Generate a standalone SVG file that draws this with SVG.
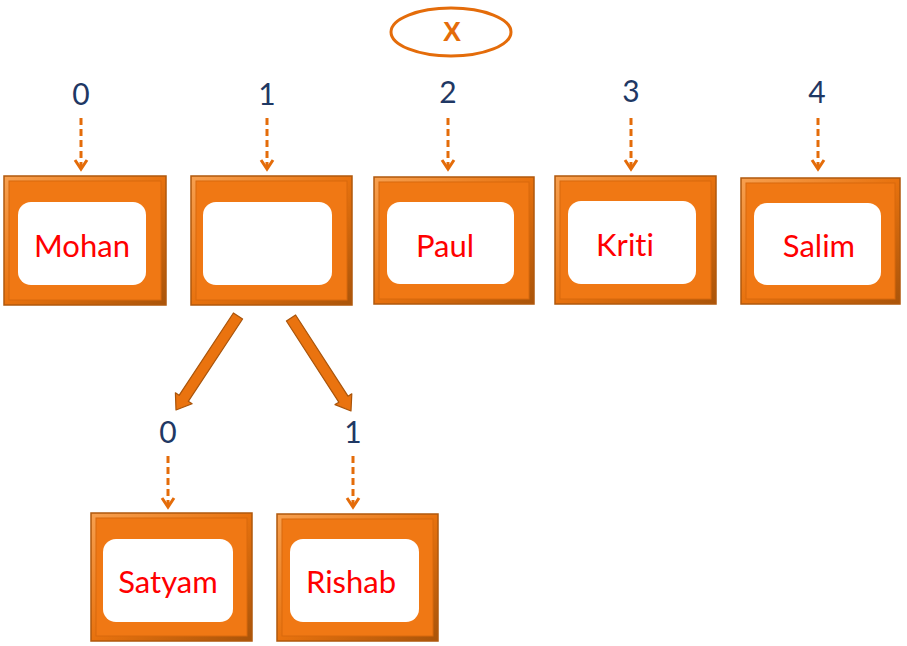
<svg xmlns="http://www.w3.org/2000/svg" width="907" height="646" viewBox="0 0 907 646">
<defs>
<style>
.outer{stroke:#b0580c;stroke-width:1.5}
.face{fill:#f07814;stroke:#d8680c;stroke-width:1}
.inner{fill:#ffffff}
.name{font-family:Lato,"Liberation Sans",sans-serif;font-size:31px;fill:#ff0000;text-anchor:middle;font-variant-ligatures:none}
.idx{font-family:Lato,"Liberation Sans",sans-serif;font-size:30px;fill:#1f3864;text-anchor:middle}
.dash{stroke:#e46c0a;stroke-width:3;stroke-dasharray:7 4;fill:none}
.big{fill:#ea730f;stroke:#a9540a;stroke-width:1.2;stroke-linejoin:round}
</style>
<marker id="v" markerWidth="16" markerHeight="16" refX="12" refY="8" orient="auto" markerUnits="userSpaceOnUse" viewBox="0 0 16 16">
<path d="M4,2 L13,8 L4,14" fill="none" stroke="#e46c0a" stroke-width="3"/>
</marker>
<linearGradient id="bev" x1="0" y1="0" x2="1" y2="1">
<stop offset="0" stop-color="#f7a050"/>
<stop offset="0.5" stop-color="#e8720e"/>
<stop offset="1" stop-color="#a9540a"/>
</linearGradient>
</defs>
<rect width="907" height="646" fill="#ffffff"/>

<g id="x-node">
<ellipse cx="451" cy="32" rx="60" ry="24" fill="#ffffff" stroke="#e46c0a" stroke-width="3"/>
<text x="452" y="41" font-family="'Liberation Sans',sans-serif" font-size="27" font-weight="bold" fill="#e46c0a" text-anchor="middle">X</text>
</g>

<g id="node-0">
<rect class="outer" x="4" y="176" width="162" height="129" fill="url(#bev)"/>
<rect class="face" x="9" y="181" width="152" height="119"/>
<rect class="inner" x="18" y="202" width="128" height="83" rx="13"/>
<text class="name" x="82" y="257">Mohan</text>
<text class="idx" x="81" y="105">0</text>
</g>
<g id="node-1">
<rect class="outer" x="191" y="176" width="161" height="129" fill="url(#bev)"/>
<rect class="face" x="196" y="181" width="151" height="119"/>
<rect class="inner" x="203" y="202" width="129" height="83" rx="13"/>
<text class="idx" x="267" y="105">1</text>
</g>
<g id="node-2">
<rect class="outer" x="374" y="177" width="160" height="127" fill="url(#bev)"/>
<rect class="face" x="379" y="182" width="150" height="117"/>
<rect class="inner" x="387" y="202" width="127" height="82" rx="13"/>
<text class="name" x="445" y="257">Paul</text>
<text class="idx" x="448" y="103">2</text>
</g>
<g id="node-3">
<rect class="outer" x="555" y="176" width="161" height="128" fill="url(#bev)"/>
<rect class="face" x="560" y="181" width="151" height="118"/>
<rect class="inner" x="568" y="201" width="128" height="83" rx="13"/>
<text class="name" x="625" y="256">Kriti</text>
<text class="idx" x="631" y="102">3</text>
</g>
<g id="node-4">
<rect class="outer" x="741" y="178" width="159" height="126" fill="url(#bev)"/>
<rect class="face" x="746" y="183" width="149" height="116"/>
<rect class="inner" x="754" y="203" width="127" height="82" rx="13"/>
<text class="name" x="819" y="257">Salim</text>
<text class="idx" x="817" y="103">4</text>
</g>
<g id="node-1-0">
<rect class="outer" x="91" y="513" width="161" height="128" fill="url(#bev)"/>
<rect class="face" x="96" y="518" width="151" height="118"/>
<rect class="inner" x="103" y="539" width="130" height="83" rx="13"/>
<text class="name" x="168" y="593">Satyam</text>
<text class="idx" x="168" y="443">0</text>
</g>
<g id="node-1-1">
<rect class="outer" x="277" y="514" width="161" height="127" fill="url(#bev)"/>
<rect class="face" x="282" y="519" width="151" height="117"/>
<rect class="inner" x="290" y="539" width="129" height="83" rx="13"/>
<text class="name" x="351" y="593">Rishab</text>
<text class="idx" x="353" y="443">1</text>
</g>

<g id="connectors">
<line class="dash" x1="81" y1="118" x2="81" y2="168" marker-end="url(#v)"/>
<line class="dash" x1="267" y1="118" x2="267" y2="168" marker-end="url(#v)"/>
<line class="dash" x1="448" y1="118" x2="448" y2="168" marker-end="url(#v)"/>
<line class="dash" x1="631" y1="118" x2="631" y2="168" marker-end="url(#v)"/>
<line class="dash" x1="818" y1="118" x2="818" y2="168" marker-end="url(#v)"/>
<line class="dash" x1="168" y1="456" x2="168" y2="506" marker-end="url(#v)"/>
<line class="dash" x1="353" y1="456" x2="353" y2="506" marker-end="url(#v)"/>
<polygon id="arrow-left" class="big" points="233.4,313 242.6,319 188.3,401.3 192.1,403.8 176,410 175.4,392.8 179.1,395.3"/>
<polygon id="arrow-right" class="big" points="286.4,321 295.6,315 348,396.2 351.8,393.8 351,411 335,404.6 338.8,402.2"/>
</g>
</svg>
